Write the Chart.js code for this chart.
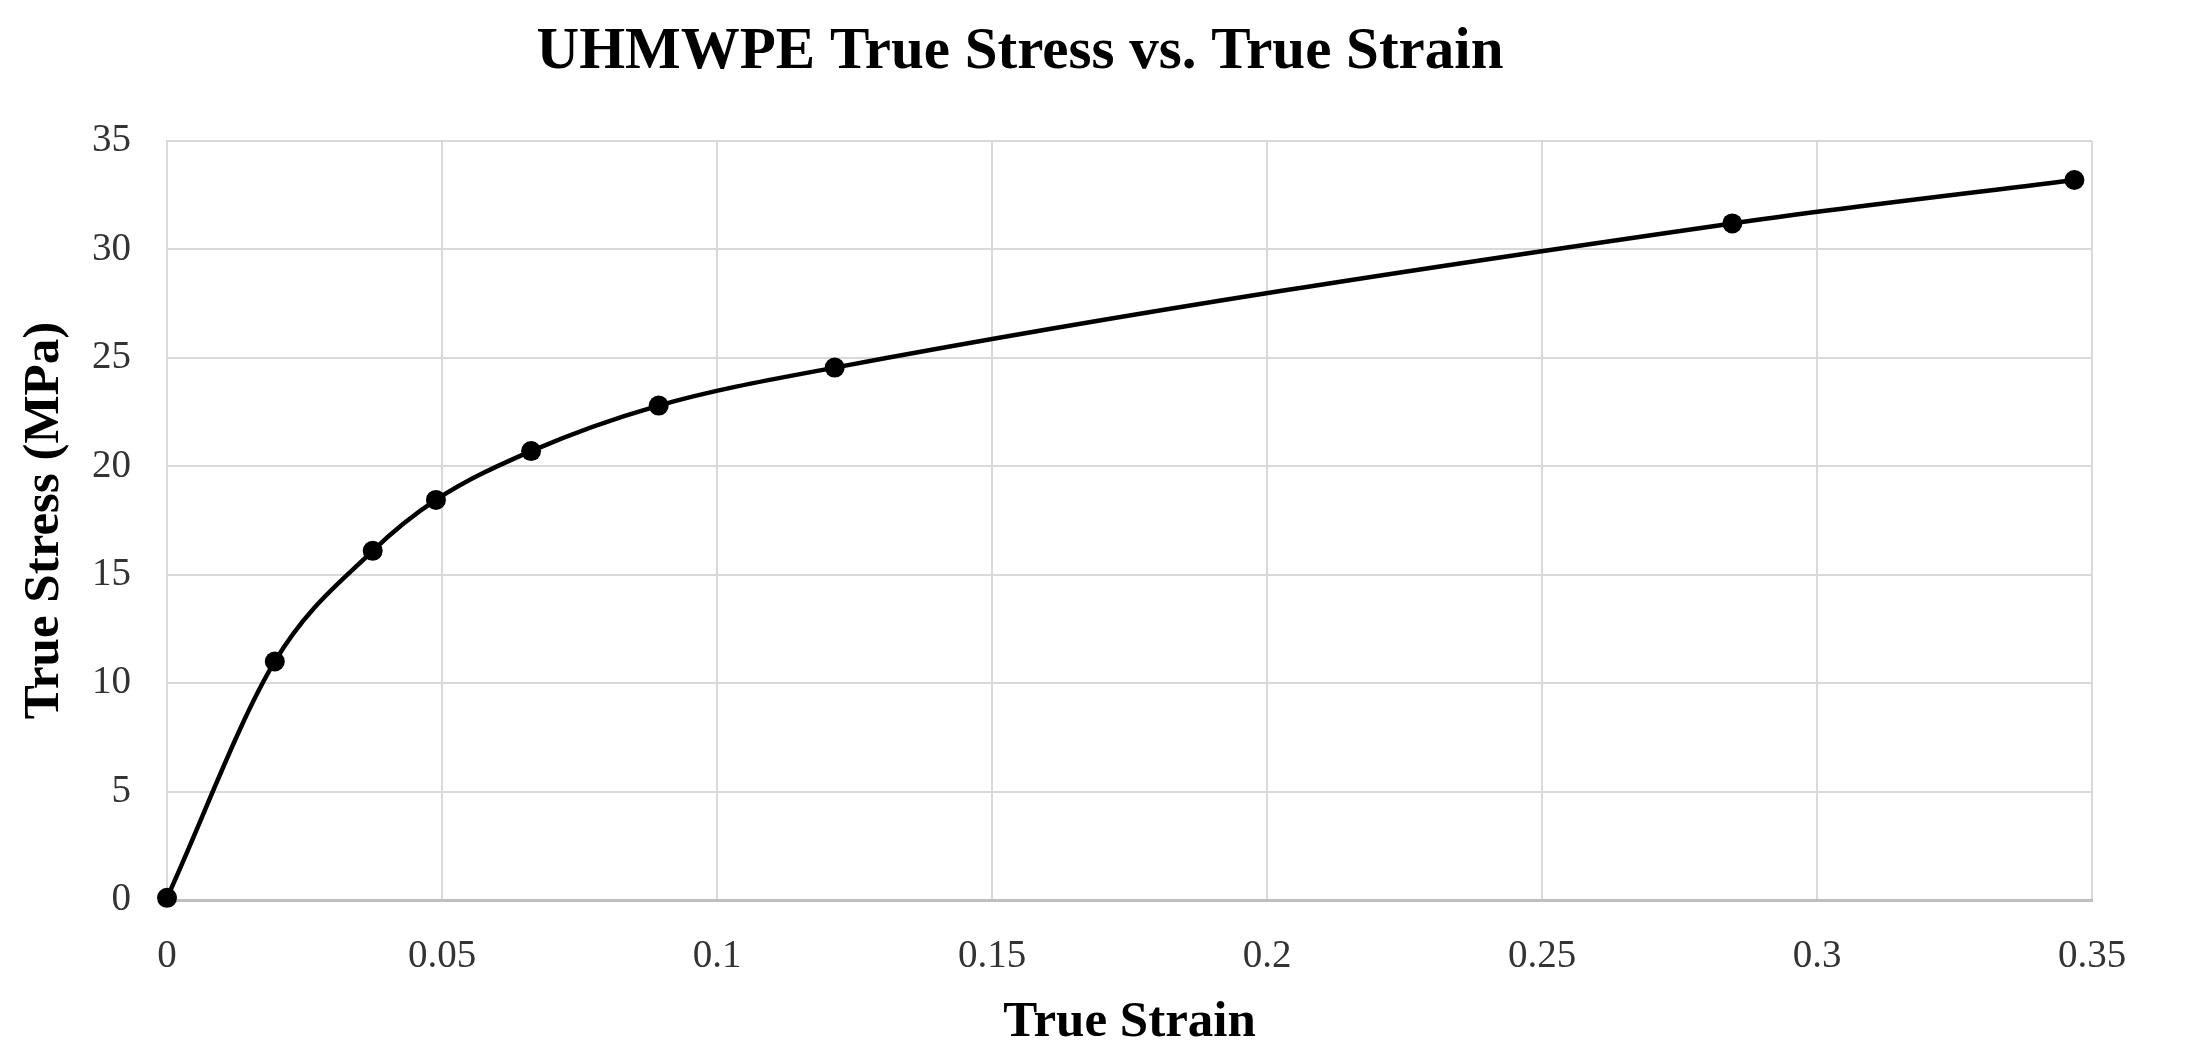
<!DOCTYPE html>
<html>
<head>
<meta charset="utf-8">
<title>UHMWPE True Stress vs. True Strain</title>
<script src="https://cdn.jsdelivr.net/npm/chart.js@4.4.1/dist/chart.umd.min.js"></script>
<style>
  html, body { margin: 0; padding: 0; background: #fff; }
  #wrap { position: relative; width: 2196px; height: 1053px; }
</style>
</head>
<body>
<div id="wrap"><canvas id="chart"></canvas></div>
<script>
"use strict";

// values
let strain = [0, 0.0196, 0.0374, 0.0489, 0.0662, 0.0894, 0.1214, 0.2846, 0.3468];
let stress = [0.1, 11.0, 16.1, 18.45, 20.7, 22.8, 24.55, 31.2, 33.2];

let xTicks = [0, 0.05, 0.1, 0.15, 0.2, 0.25, 0.3, 0.35];
let yTicks = [0, 5, 10, 15, 20, 25, 30, 35];

let chartTitle = 'UHMWPE True Stress vs. True Strain';
let xTitle = 'True Strain';
let yTitle = 'True Stress (MPa)';

const serif = '"Liberation Serif", "Times New Roman", serif';

let points = [];
for (let i = 0; i < strain.length; i++) {
  points.push({ x: strain[i], y: stress[i] });
}

// the title in the picture sits left of the canvas centre, so draw it by hand
const titlePlugin = {
  id: 'offsetTitle',
  afterDraw(chart) {
    let ctx = chart.ctx;
    ctx.save();
    ctx.font = 'bold 59px ' + serif;
    ctx.fillStyle = '#000';
    ctx.textAlign = 'center';
    ctx.textBaseline = 'middle';
    ctx.fillText(chartTitle, 1020, 53);
    ctx.restore();
  }
};

let config = {
  type: 'scatter',
  data: {
    datasets: [{
      label: 'UHMWPE',
      data: points,
      showLine: true,
      clip: false,
      cubicInterpolationMode: 'monotone',
      borderColor: '#000',
      borderWidth: 4.5,
      backgroundColor: '#000',
      pointRadius: 10,
      pointHoverRadius: 10,
      pointBorderWidth: 0
    }]
  },
  options: {
    responsive: true,
    maintainAspectRatio: false,
    animation: false,
    layout: { padding: { top: 141, right: 104, bottom: 0, left: 0 } },
    plugins: {
      legend: { display: false },
      title: { display: false },
      tooltip: { enabled: false }
    },
    scales: {
      x: {
        type: 'linear',
        min: 0,
        max: 0.35,
        afterBuildTicks: s => { s.ticks = xTicks.map(v => ({ value: v })); },
        afterFit: s => { s.height = 153; },
        grid: { color: '#d9d9d9', lineWidth: 2, drawTicks: false },
        border: { color: '#bfbfbf', width: 3 },
        ticks: {
          padding: 33,
          color: '#333',
          font: { family: serif, size: 39 },
          maxRotation: 0,
          callback: v => String(v)
        },
        title: {
          display: true,
          text: xTitle,
          color: '#000',
          padding: 0,
          font: { family: serif, size: 51, weight: 'bold', lineHeight: 1.2 }
        }
      },
      y: {
        type: 'linear',
        min: 0,
        max: 35,
        afterBuildTicks: s => { s.ticks = yTicks.map(v => ({ value: v })); },
        afterFit: s => { s.width = 167; },
        grid: { color: '#d9d9d9', lineWidth: 2, drawTicks: false },
        border: { color: '#d9d9d9', width: 2 },
        ticks: {
          padding: 36,
          color: '#333',
          font: { family: serif, size: 39 },
          callback: v => String(v)
        },
        title: {
          display: true,
          text: yTitle,
          color: '#000',
          padding: { top: 14, bottom: 0 },
          font: { family: serif, size: 51, weight: 'bold', lineHeight: 1.2 }
        }
      }
    }
  },
  plugins: [titlePlugin]
};

let myChart = new Chart(document.getElementById('chart'), config);
</script>
</body>
</html>
